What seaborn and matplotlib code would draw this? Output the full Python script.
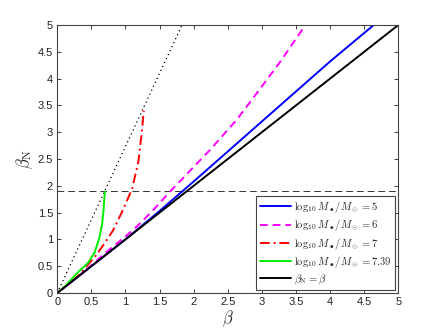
import numpy as np
import pandas as pd
import seaborn as sns
import matplotlib.pyplot as plt

# curve data (beta, beta_N)
beta_5 = [0, 0.5, 1.0, 1.5, 2.0, 2.5, 3.0, 3.5, 4.0, 4.64]
betaN_5 = [0, 0.5, 1.0, 1.53, 2.08, 2.64, 3.2, 3.76, 4.32, 5.0]

beta_6 = [0, 0.3, 0.5, 0.69, 0.84, 1.11, 1.38, 1.66, 2.24, 2.63, 2.85, 3.25, 3.64]
betaN_6 = [0, 0.3, 0.52, 0.73, 0.89, 1.17, 1.51, 1.9, 2.67, 3.23, 3.6, 4.28, 5.0]

beta_7 = [0, 0.3, 0.4, 0.55, 0.69, 0.82, 0.96, 1.1, 1.19, 1.24, 1.27]
betaN_7 = [0, 0.31, 0.46, 0.67, 0.92, 1.17, 1.54, 1.95, 2.45, 3.0, 3.4]

beta_739 = [0, 0.12, 0.24, 0.33, 0.45, 0.55, 0.62, 0.66, 0.68, 0.69, 0.70]
betaN_739 = [0, 0.13, 0.3, 0.42, 0.56, 0.76, 1.04, 1.3, 1.55, 1.75, 1.89]

beta_eq = [0, 5]
betaN_eq = [0, 5]

beta_dot = [0, 1.83]
betaN_dot = [0, 5]

hline_y = 1.9

labels = [r"$\log_{10}M_\bullet/M_\odot = 5$",
          r"$\log_{10}M_\bullet/M_\odot = 6$",
          r"$\log_{10}M_\bullet/M_\odot = 7$",
          r"$\log_{10}M_\bullet/M_\odot = 7.39$",
          r"$\beta_{\rm N} = \beta$"]

sns.set_style("ticks")
plt.rcParams['font.family'] = ['Liberation Sans', 'DejaVu Sans']
plt.rcParams['mathtext.fontset'] = 'cm'

fig = plt.figure(figsize=(4.4, 3.3), dpi=100)
ax = fig.add_axes([0.13, 0.112, 0.775, 0.812])

sns.lineplot(x=beta_dot, y=betaN_dot, ax=ax, color='black', lw=0.9,
             linestyle=(0, (1, 2.5)), sort=False)
ax.axhline(hline_y, color='#333333', lw=0.7, linestyle=(0, (7, 4)))

sns.lineplot(x=beta_5, y=betaN_5, ax=ax, color='blue', lw=1.4, sort=False, label=labels[0])
sns.lineplot(x=beta_6, y=betaN_6, ax=ax, color='magenta', lw=1.4, sort=False,
             linestyle=(0, (4, 2.5)), label=labels[1])
sns.lineplot(x=beta_7, y=betaN_7, ax=ax, color='red', lw=1.4, sort=False,
             linestyle=(0, (5, 2, 1, 2)), label=labels[2])
sns.lineplot(x=beta_739, y=betaN_739, ax=ax, color='#00ee00', lw=1.4, sort=False, label=labels[3])
sns.lineplot(x=beta_eq, y=betaN_eq, ax=ax, color='black', lw=1.4, sort=False, label=labels[4])

ax.set_xlim(0, 5)
ax.set_ylim(0, 5)
ax.set_xticks(np.arange(0, 5.01, 0.5))
ax.set_yticks(np.arange(0, 5.01, 0.5))
ax.set_xticklabels(['0', '0.5', '1', '1.5', '2', '2.5', '3', '3.5', '4', '4.5', '5'])
ax.set_yticklabels(['0', '0.5', '1', '1.5', '2', '2.5', '3', '3.5', '4', '4.5', '5'])
ax.tick_params(direction='in', length=3, width=0.6, labelsize=8, colors='#222222',
               top=True, right=True, pad=3)
for s in ax.spines.values():
    s.set_visible(True)
    s.set_color('#444444')
    s.set_linewidth(0.8)

ax.set_xlabel(r"$\beta$", fontsize=12, labelpad=1)
ax.set_ylabel(r"$\beta_{\rm N}$", fontsize=12, labelpad=2)

leg = ax.legend(loc='lower right', prop={'size': 7.6}, frameon=True, fancybox=False,
                handlelength=3.0, borderaxespad=0.3, labelspacing=0.22,
                handletextpad=0.3, borderpad=0.3)
leg.get_frame().set_edgecolor('#444444')
leg.get_frame().set_linewidth(0.8)
leg.get_frame().set_alpha(1)

fig.savefig("out.png", dpi=100)
